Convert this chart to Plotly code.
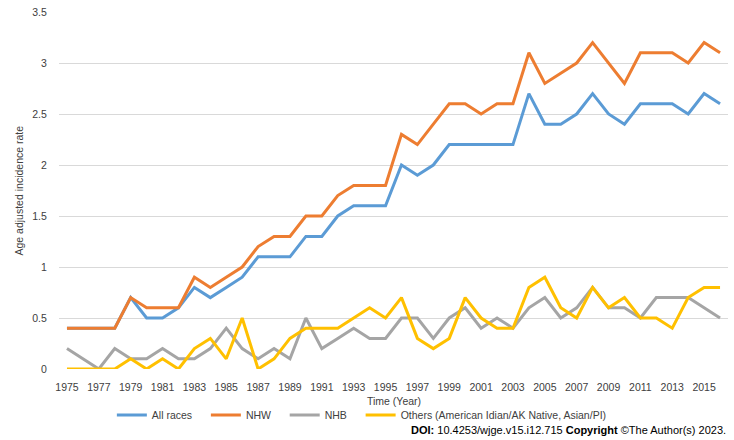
import plotly.graph_objects as go

years = list(range(1975, 2017))

all_races = [0.4, 0.4, 0.4, 0.4, 0.7, 0.5, 0.5, 0.6, 0.8, 0.7,
             0.8, 0.9, 1.1, 1.1, 1.1, 1.3, 1.3, 1.5, 1.6, 1.6,
             1.6, 2.0, 1.9, 2.0, 2.2, 2.2, 2.2, 2.2, 2.2, 2.7,
             2.4, 2.4, 2.5, 2.7, 2.5, 2.4, 2.6, 2.6, 2.6, 2.5,
             2.7, 2.6]
nhw = [0.4, 0.4, 0.4, 0.4, 0.7, 0.6, 0.6, 0.6, 0.9, 0.8,
       0.9, 1.0, 1.2, 1.3, 1.3, 1.5, 1.5, 1.7, 1.8, 1.8,
       1.8, 2.3, 2.2, 2.4, 2.6, 2.6, 2.5, 2.6, 2.6, 3.1,
       2.8, 2.9, 3.0, 3.2, 3.0, 2.8, 3.1, 3.1, 3.1, 3.0,
       3.2, 3.1]
nhb = [0.2, 0.1, 0.0, 0.2, 0.1, 0.1, 0.2, 0.1, 0.1, 0.2,
       0.4, 0.2, 0.1, 0.2, 0.1, 0.5, 0.2, 0.3, 0.4, 0.3,
       0.3, 0.5, 0.5, 0.3, 0.5, 0.6, 0.4, 0.5, 0.4, 0.6,
       0.7, 0.5, 0.6, 0.8, 0.6, 0.6, 0.5, 0.7, 0.7, 0.7,
       0.6, 0.5]
others = [0.0, 0.0, 0.0, 0.0, 0.1, 0.0, 0.1, 0.0, 0.2, 0.3,
          0.1, 0.5, 0.0, 0.1, 0.3, 0.4, 0.4, 0.4, 0.5, 0.6,
          0.5, 0.7, 0.3, 0.2, 0.3, 0.7, 0.5, 0.4, 0.4, 0.8,
          0.9, 0.6, 0.5, 0.8, 0.6, 0.7, 0.5, 0.5, 0.4, 0.7,
          0.8, 0.8]

tick_years = list(range(1975, 2017, 2))
y_ticks = [0, 0.5, 1, 1.5, 2, 2.5, 3, 3.5]

FONT = "Liberation Sans, Arial, sans-serif"
TXT = "#404040"
PAD = "\u00a0" * 3  # extra room between legend entries

series = [
    ("All races" + PAD, all_races, "#5B9BD5"),
    ("NHW" + PAD, nhw, "#ED7D31"),
    ("NHB" + PAD, nhb, "#A5A5A5"),
    ("Others (American Idian/AK Native, Asian/PI)", others, "#FFC000"),
]

fig = go.Figure()
for name, vals, col in series:
    fig.add_trace(go.Scatter(x=years, y=vals, name=name, mode="lines",
                             line=dict(color=col, width=3)))

fig.update_layout(
    width=734, height=440,
    margin=dict(l=59, r=6, t=12, b=71, autoexpand=False),
    paper_bgcolor="white", plot_bgcolor="white",
    font=dict(family=FONT, size=10.5, color=TXT),
    showlegend=True,
    legend=dict(orientation="h", xref="container", yref="container",
                x=0.493, xanchor="center", y=1 - 415 / 440, yanchor="middle",
                font=dict(size=10.5, color=TXT), itemwidth=30, tracegroupgap=0),
    xaxis=dict(range=[1974.5, 2016.5], tickvals=tick_years, showgrid=False,
               showline=False, zeroline=False, automargin=False,
               ticks="outside", ticklen=8, tickcolor="rgba(0,0,0,0)"),
    yaxis=dict(range=[0, 3.5], tickvals=y_ticks, ticktext=[str(v) for v in y_ticks],
               gridcolor="#D9D9D9", gridwidth=1, zeroline=False, showline=False,
               automargin=False, ticks="outside", ticklen=9,
               tickcolor="rgba(0,0,0,0)"),
)

fig.add_annotation(text="Time (Year)", xref="paper", yref="paper",
                   x=0.5, y=(369 - 401) / 357, yanchor="middle",
                   showarrow=False, font=dict(size=10.5, color=TXT))
fig.add_annotation(text="Age adjusted incidence rate", xref="paper", yref="paper",
                   x=(18 - 59) / 669, y=0.5, textangle=-90, xanchor="center",
                   showarrow=False, font=dict(size=10.5, color=TXT))
fig.add_annotation(text="<b>DOI:</b> 10.4253/wjge.v15.i12.715 <b>Copyright</b> ©The Author(s) 2023.",
                   xref="paper", yref="paper", x=1, y=(369 - 430) / 357, xanchor="right",
                   yanchor="middle", showarrow=False, font=dict(size=11, color="#000000"))

fig.write_html("out.html", config={"displayModeBar": False},
               post_script="document.body.style.margin='0';")
